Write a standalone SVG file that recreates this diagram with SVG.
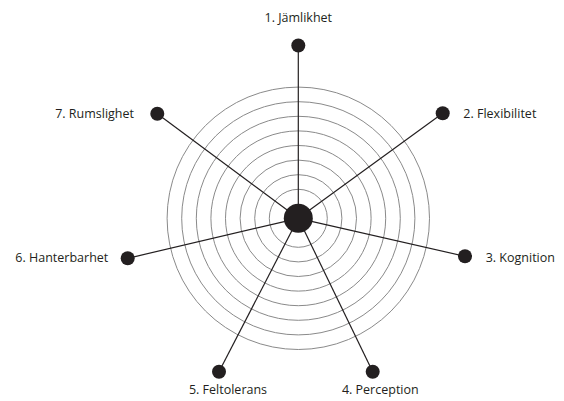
<svg xmlns="http://www.w3.org/2000/svg" width="564" height="401" viewBox="0 0 564 401">
<style>
.ring{fill:none;stroke:#8a8a8a;stroke-width:1}
.spoke{stroke:#231f20;stroke-width:1.2}
.dot{fill:#231f20}
.lbl{font-family:"Open Sans","Noto Sans",sans-serif;font-size:12.5px;fill:#231f20}
</style>
<rect width="564" height="401" fill="#fff"/>
<g id="rings">
<circle class="ring" cx="298.3" cy="218.3" r="131.2"/>
<circle class="ring" cx="298.3" cy="218.3" r="116.6"/>
<circle class="ring" cx="298.3" cy="218.3" r="102"/>
<circle class="ring" cx="298.3" cy="218.3" r="87.4"/>
<circle class="ring" cx="298.3" cy="218.3" r="72.8"/>
<circle class="ring" cx="298.3" cy="218.3" r="58.2"/>
<circle class="ring" cx="298.3" cy="218.3" r="43.6"/>
<circle class="ring" cx="298.3" cy="218.3" r="29"/>
</g>
<g id="connectors">
<line class="spoke" x1="298.3" y1="218.3" x2="298.3" y2="45.5"/>
<line class="spoke" x1="298.3" y1="218.3" x2="442.7" y2="113.3"/>
<line class="spoke" x1="298.3" y1="218.3" x2="465" y2="256.3"/>
<line class="spoke" x1="298.3" y1="218.3" x2="372.7" y2="371.7"/>
<line class="spoke" x1="298.3" y1="218.3" x2="219" y2="371.7"/>
<line class="spoke" x1="298.3" y1="218.3" x2="127.7" y2="258.3"/>
<line class="spoke" x1="298.3" y1="218.3" x2="157.3" y2="113.8"/>
</g>
<g id="center"><circle class="dot" cx="298.3" cy="218.3" r="14.5"/></g>
<g id="n1"><circle class="dot" cx="298.3" cy="45.5" r="7"/><text class="lbl" x="298.3" y="22" text-anchor="middle">1. Jämlikhet</text></g>
<g id="n2"><circle class="dot" cx="442.7" cy="113.3" r="7"/><text class="lbl" x="463.3" y="117.5">2. Flexibilitet</text></g>
<g id="n3"><circle class="dot" cx="465" cy="256.3" r="7"/><text class="lbl" x="485.7" y="262">3. Kognition</text></g>
<g id="n4"><circle class="dot" cx="372.7" cy="371.7" r="7"/><text class="lbl" x="380.3" y="393.5" text-anchor="middle">4. Perception</text></g>
<g id="n5"><circle class="dot" cx="219" cy="371.7" r="7"/><text class="lbl" x="228" y="393.5" text-anchor="middle">5. Feltolerans</text></g>
<g id="n6"><circle class="dot" cx="127.7" cy="258.3" r="7"/><text class="lbl" x="108.3" y="262" text-anchor="end">6. Hanterbarhet</text></g>
<g id="n7"><circle class="dot" cx="157.3" cy="113.8" r="7"/><text class="lbl" x="134" y="117.5" text-anchor="end">7. Rumslighet</text></g>
</svg>
